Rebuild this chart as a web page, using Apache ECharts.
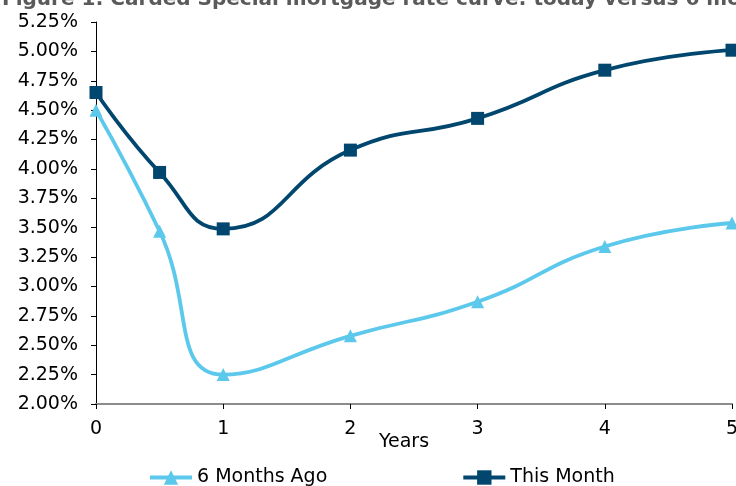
<!DOCTYPE html>
<html>
<head>
<meta charset="utf-8">
<script src="https://cdn.jsdelivr.net/npm/echarts@6/dist/echarts.min.js"></script>
<style>
  html, body { margin: 0; padding: 0; background: #fff; }
  #chart { width: 736px; height: 486px; }
</style>
</head>
<body>
<div id="chart"></div>
<script>
// Carded Special mortgage rates (%) by term in years
const years = [0, 0.5, 1, 2, 3, 4, 5];
const sixMonthsAgo = [4.50, 3.47, 2.25, 2.58, 2.87, 3.34, 3.54];
const thisMonth = [4.65, 3.97, 3.49, 4.16, 4.43, 4.84, 5.01];
const seriesNames = ['6 Months Ago', 'This Month'];
const titleText = 'Figure 1: Carded Special mortgage rate curve: today versus 6 months ago';

const FONT = 'DejaVu Sans';
const LIGHT = '#5BC8EC';
const DARK = '#00466E';

const pairs = (ys) => years.map((x, i) => [x, ys[i]]);

const chart = echarts.init(document.getElementById('chart'), null, { renderer: 'canvas' });
chart.setOption({
  animation: false,
  backgroundColor: '#ffffff',
  title: {
    text: titleText,
    left: -3,
    top: -15,
    textStyle: { fontFamily: FONT, fontSize: 20, fontWeight: 'bold', color: '#5a5a5a' }
  },
  grid: { left: 96, right: 4, top: 22, bottom: 82, containLabel: false, outerBoundsMode: 'none' },
  legend: {
    data: seriesNames,
    left: 143,
    top: 463,
    itemGap: 134,
    itemWidth: 42,
    itemHeight: 18,
    lineStyle: { width: 4 },
    textStyle: { fontFamily: FONT, fontSize: 19, color: '#000' }
  },
  xAxis: {
    type: 'value',
    min: 0,
    max: 5,
    interval: 1,
    name: 'Years',
    nameLocation: 'middle',
    nameGap: 29,
    nameMoveOverlap: false,
    nameTextStyle: { fontFamily: FONT, fontSize: 19, color: '#000', padding: [0, 20, 0, 0] },
    axisLine: { show: true, lineStyle: { color: '#8c8c8c', width: 2 } },
    axisTick: { show: true, inside: false, length: 5, lineStyle: { color: '#000', width: 1 } },
    axisLabel: { fontFamily: FONT, fontSize: 19, color: '#000', margin: 16 },
    splitLine: { show: false }
  },
  yAxis: {
    type: 'value',
    min: 2.0,
    max: 5.25,
    interval: 0.25,
    axisLine: { show: true, lineStyle: { color: '#000', width: 1 } },
    axisTick: { show: true, inside: false, length: 5, lineStyle: { color: '#000', width: 1 } },
    axisLabel: {
      fontFamily: FONT, fontSize: 19, color: '#000', margin: 18,
      formatter: (v) => v.toFixed(2) + '%'
    },
    splitLine: { show: false }
  },
  series: [
    {
      name: seriesNames[0],
      type: 'line',
      data: pairs(sixMonthsAgo),
      smooth: 0.5,
      symbol: 'triangle',
      symbolSize: 13,
      showAllSymbol: true,
      lineStyle: { color: LIGHT, width: 3.8 },
      itemStyle: { color: LIGHT, borderWidth: 0 },
      z: 2
    },
    {
      name: seriesNames[1],
      type: 'line',
      data: pairs(thisMonth),
      smooth: 0.5,
      symbol: 'rect',
      symbolSize: 13,
      showAllSymbol: true,
      lineStyle: { color: DARK, width: 3.8 },
      itemStyle: { color: DARK, borderWidth: 0 },
      z: 3
    }
  ]
});
</script>
</body>
</html>
